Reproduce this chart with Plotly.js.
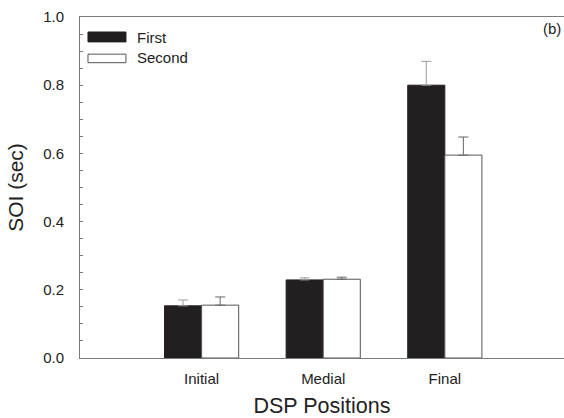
<!DOCTYPE html>
<html>
<head>
<meta charset="utf-8">
<script src="https://cdn.plot.ly/plotly-3.0.1.min.js"></script>
<style>html,body{margin:0;padding:0;background:#fff;}#chart{width:564px;height:418px;}</style>
</head>
<body>
<div id="chart"></div>
<script>
var categories = ["Initial", "Medial", "Final"];
var firstValues = [0.153, 0.229, 0.800];
var firstErrors = [0.017, 0.006, 0.070];
var secondValues = [0.155, 0.231, 0.595];
var secondErrors = [0.024, 0.006, 0.053];
var seriesNames = ["First", "Second"];
var yTickVals = [0.0, 0.2, 0.4, 0.6, 0.8, 1.0];
var yTickText = ["0.0", "0.2", "0.4", "0.6", "0.8", "1.0"];

var zeros = categories.map(function () { return 0; });
var font = "Liberation Sans, Arial, sans-serif";

var traces = [
  {
    type: "bar", name: seriesNames[0], x: categories, y: firstValues,
    marker: {color: "#231f20", line: {color: "#231f20", width: 1}},
    error_y: {type: "data", symmetric: false, array: firstErrors, arrayminus: zeros,
              color: "#9a9a9a", thickness: 1, width: 5},
    showlegend: false, hoverinfo: "skip"
  },
  {
    type: "bar", name: seriesNames[1], x: categories, y: secondValues,
    marker: {color: "#ffffff", line: {color: "#555555", width: 1}},
    error_y: {type: "data", symmetric: false, array: secondErrors, arrayminus: zeros,
              color: "#666666", thickness: 1, width: 5},
    showlegend: false, hoverinfo: "skip"
  }
];

var layout = {
  width: 564, height: 418,
  margin: {l: 80, r: 0, t: 17, b: 60, pad: 0},
  paper_bgcolor: "#ffffff", plot_bgcolor: "#ffffff",
  font: {family: font, color: "#222222", size: 15},
  barmode: "group", bargap: 0.39, bargroupgap: 0,
  showlegend: false,
  xaxis: {
    type: "category", categoryorder: "array", categoryarray: categories,
    range: [-1, 2.98], showgrid: false, zeroline: false,
    showline: true, linecolor: "#7a7a7a", linewidth: 1, mirror: true,
    ticks: "", tickfont: {size: 15, family: font, color: "#222"},
    ticklabelstandoff: 7,
    title: {text: "DSP Positions", font: {size: 21.5, family: font, color: "#222"}, standoff: 19}
  },
  yaxis: {
    range: [0, 1.0], showgrid: false, zeroline: false,
    showline: true, linecolor: "#7a7a7a", linewidth: 1,
    ticks: "inside", ticklen: 3, tickcolor: "#7a7a7a", tickwidth: 1,
    tickmode: "array", tickvals: yTickVals, ticktext: yTickText,
    minor: {dtick: 0.05, ticks: "inside", ticklen: 3, tickcolor: "#7a7a7a", tickwidth: 1, showgrid: false},
    tickfont: {size: 15, family: font, color: "#222"},
    ticklabelstandoff: 12,
    title: {text: "SOI (sec)", font: {size: 21, family: font, color: "#222"}, standoff: 13}
  },
  shapes: [
    {type: "rect", xref: "paper", yref: "paper", x0: 0.0165, x1: 0.095, y0: 0.927, y1: 0.956,
     fillcolor: "#231f20", line: {color: "#231f20", width: 1}},
    {type: "rect", xref: "paper", yref: "paper", x0: 0.0165, x1: 0.095, y0: 0.866, y1: 0.891,
     fillcolor: "#ffffff", line: {color: "#555555", width: 1}}
  ],
  annotations: [
    {xref: "paper", yref: "paper", x: 0.1136, y: 0.941, xanchor: "left", yanchor: "middle",
     text: seriesNames[0], showarrow: false, font: {size: 15, family: font, color: "#222"}},
    {xref: "paper", yref: "paper", x: 0.1136, y: 0.880, xanchor: "left", yanchor: "middle",
     text: seriesNames[1], showarrow: false, font: {size: 15, family: font, color: "#222"}},
    {xref: "paper", yref: "paper", x: 0.997, y: 0.965, xanchor: "right", yanchor: "middle",
     text: "(b)", showarrow: false, font: {size: 15, family: font, color: "#222"}}
  ]
};

Plotly.newPlot("chart", traces, layout, {displayModeBar: false, staticPlot: true});
</script>
</body>
</html>
